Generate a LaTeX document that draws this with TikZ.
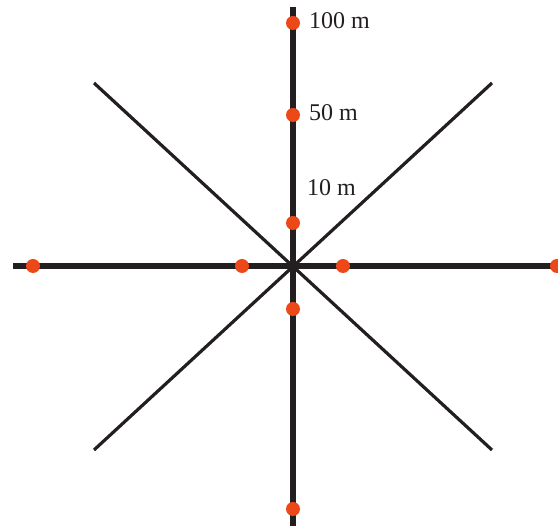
\documentclass[tikz,border=0pt]{standalone}
\usepackage{fontspec}
\setmainfont{Liberation Serif}
\definecolor{linecol}{RGB}{35,31,32}
\definecolor{dotcol}{RGB}{236,72,24}
\begin{document}
\begin{tikzpicture}[x=1pt,y=-1pt,
  thick line/.style={draw=linecol,line width=6.5pt},
  diag line/.style={draw=linecol,line width=3.2pt},
  dot/.style={circle,fill=dotcol,inner sep=0pt,minimum size=14pt},
  lbl/.style={anchor=west,inner sep=0pt,font=\fontsize{24}{26}\selectfont,text=linecol}]
\useasboundingbox (0,0) rectangle (558,526);
% end points
\coordinate (c) at (293,266);
\coordinate (vt) at (293,7);
\coordinate (vb) at (293,526);
\coordinate (hl) at (13,266);
\coordinate (hr) at (558,266);
\coordinate (tl) at (94,83);
\coordinate (br) at (492,450);
\coordinate (tr) at (492,83);
\coordinate (bl) at (94,450);
% lines
\draw[diag line] (tl) -- (br);
\draw[diag line] (tr) -- (bl);
\draw[thick line] (hl) -- (hr);
\draw[thick line] (vt) -- (vb);
% dots
\node[dot] (d100) at (293,23) {};
\node[dot] (d50) at (293,115) {};
\node[dot] (d10) at (293,223) {};
\node[dot] (dl1) at (242,266) {};
\node[dot] (dl2) at (33,266) {};
\node[dot] (dr1) at (343,266) {};
\node[dot] (dr2) at (557,266) {};
\node[dot] (db1) at (293,309) {};
\node[dot] (db2) at (293,509) {};
% labels
\node[lbl] (l100) at (309,21) {100 m};
\node[lbl] (l50) at (309,113) {50 m};
\node[lbl] (l10) at (307,188) {10 m};
\end{tikzpicture}
\end{document}
